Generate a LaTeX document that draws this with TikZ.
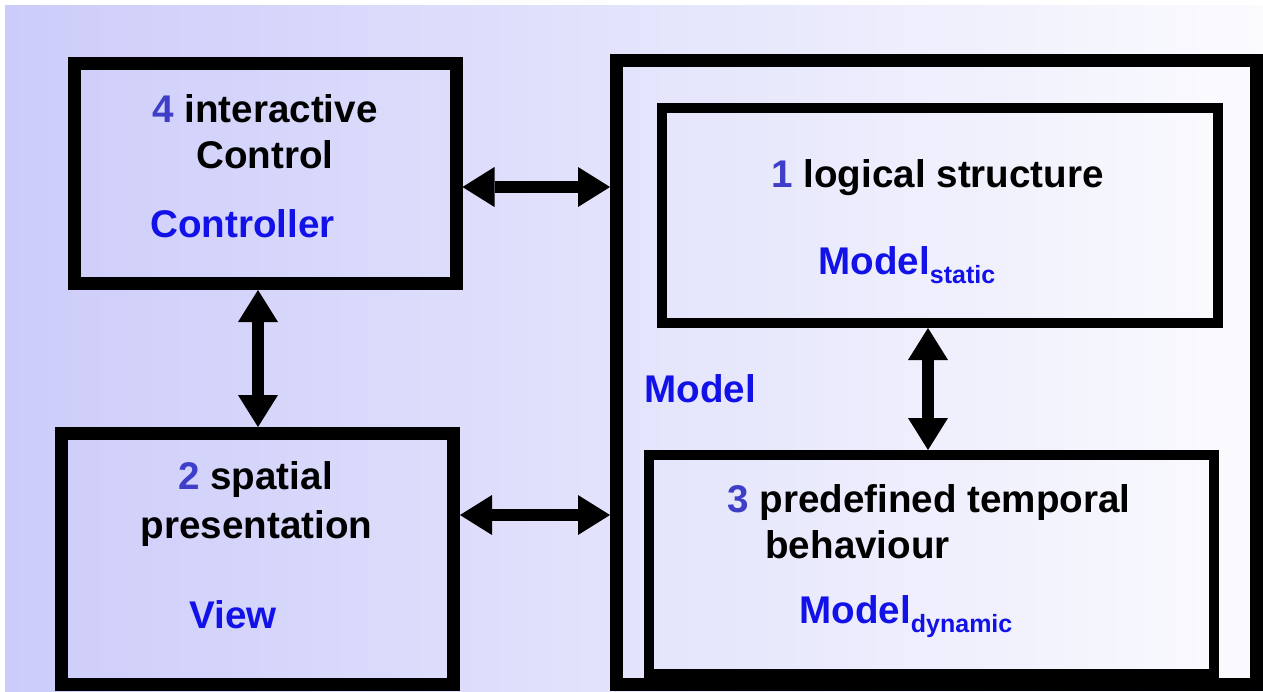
\documentclass[tikz,border=0pt]{standalone}
\usepackage{fontspec}
\setmainfont{Liberation Sans}
\usetikzlibrary{positioning,arrows.meta,calc}

\definecolor{numblue}{RGB}{62,62,200}
\definecolor{lblue}{RGB}{18,18,232}
\definecolor{bgleft}{RGB}{204,204,250}
\definecolor{bgright}{RGB}{251,251,254}

\begin{document}
\begin{tikzpicture}[
    x=0.5pt, y=-0.5pt,
    box/.style={
        draw,
        line width=6.5pt,
        inner sep=0pt
    },
    inbox/.style={box, line width=5pt},
    lbl/.style={
        inner sep=0pt,
        font=\fontsize{19.3pt}{23pt}\selectfont\bfseries
    },
    twoway/.style={
        line width=6pt,
        {Triangle[length=16pt,width=20pt,line width=0pt]}-{Triangle[length=16pt,width=20pt,line width=0pt]}
    }
]
    \useasboundingbox (0,0) rectangle (1263,691);
    \shade[left color=bgleft, right color=bgright] (5,5) rectangle (1263,691);

    % Caixas
    \node[box, minimum width=191pt, minimum height=110pt] (ctrl) at (265,173.5) {};
    \node[box, minimum width=196pt, minimum height=125.5pt] (view) at (257.5,559) {};
    \node[box, minimum width=320pt, minimum height=312pt] (model) at (936.5,372.5) {};
    \node[inbox, minimum width=278pt, minimum height=107.5pt] (logic) at (940,215.5) {};
    \node[inbox, minimum width=282.5pt, minimum height=109.5pt] (temporal) at (931.5,564.5) {};

    % Setas
    \draw[twoway] ($(ctrl.east)+(0,13.5)$) -- ($(model.west)+(0,-185.5)$);
    \draw[twoway] ($(view.east)+(0,-44)$) -- ($(model.west)+(0,142.5)$);
    \draw[twoway] ($(ctrl.south)+(-7,0)$) -- ($(view.north)+(0.5,0)$);
    \draw[twoway] ($(logic.south)+(-12,0)$) -- ($(temporal.north)+(-3.5,0)$);

    % Textos
    \node[lbl, anchor=base] (ctrlA) at (265,122) {\textcolor{numblue}{4} interactive};
    \node[lbl, anchor=base] (ctrlB) at (265,168) {Control};
    \node[lbl, anchor=base west, text=lblue] (ctrlC) at (150,237) {Controller};

    \node[lbl, anchor=base] (viewA) at (255.5,489) {\textcolor{numblue}{2} spatial};
    \node[lbl, anchor=base] (viewB) at (256.5,538) {presentation};
    \node[lbl, anchor=base west, text=lblue] (viewC) at (189,628) {View};

    \node[lbl, anchor=base west] (logicA) at (771,187) {\textcolor{numblue}{1} logical structure};
    \node[lbl, anchor=base west, text=lblue] (logicB) at (818,274)
        {Model\raisebox{-4.5pt}{\fontsize{12.5pt}{14pt}\selectfont static}};

    \node[lbl, anchor=base west, text=lblue] (modelA) at (644,402) {Model};

    \node[lbl, anchor=base west] (tempA) at (727,512) {\textcolor{numblue}{3} predefined temporal};
    \node[lbl, anchor=base west] (tempB) at (765,558) {behaviour};
    \node[lbl, anchor=base west, text=lblue] (tempC) at (799,623)
        {Model\raisebox{-4.5pt}{\fontsize{12.5pt}{14pt}\selectfont dynamic}};
\end{tikzpicture}
\end{document}
